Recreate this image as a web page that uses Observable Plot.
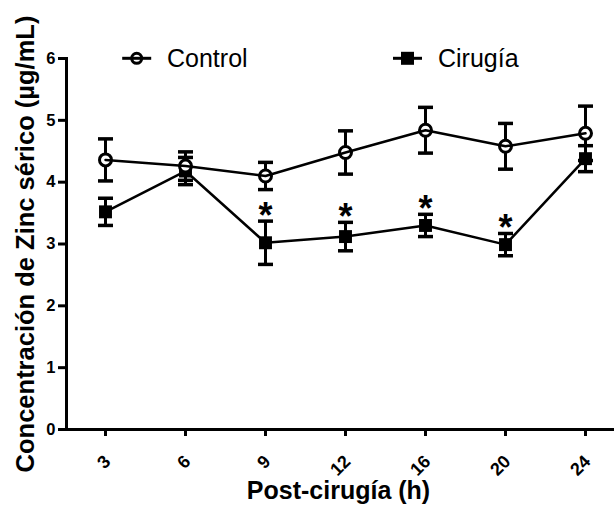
<!DOCTYPE html>
<html>
<head>
<meta charset="utf-8">
<script src="https://cdn.jsdelivr.net/npm/d3@7"></script>
<script src="https://cdn.jsdelivr.net/npm/@observablehq/plot@0.6"></script>
<style>
  html, body { margin: 0; padding: 0; background: white; }
  #wrap { position: relative; width: 614px; height: 506px; font-family: 'Liberation Sans', Arial, sans-serif; }
  #legend { position: absolute; left: 0; top: 0; pointer-events: none; }
</style>
</head>
<body>
<div id="wrap"></div>
<script>
const hours = ["3", "6", "9", "12", "16", "20", "24"];
const controlMean = [4.36, 4.26, 4.10, 4.48, 4.84, 4.58, 4.79];
const controlSem  = [0.34, 0.23, 0.22, 0.35, 0.37, 0.37, 0.44];
const cirugiaMean = [3.52, 4.18, 3.02, 3.12, 3.30, 2.99, 4.38];
const cirugiaSem  = [0.22, 0.22, 0.35, 0.23, 0.18, 0.18, 0.21];
const significant = [false, false, true, true, true, true, false];
const yTicks = [0, 1, 2, 3, 4, 5, 6];
const seriesNames = ["Control", "Cirugía"];
const yLabel = "Concentración de Zinc sérico (µg/mL)";
const xLabel = "Post-cirugía (h)";

const control = hours.map((h, i) => ({h, mean: controlMean[i], lo: controlMean[i] - controlSem[i], hi: controlMean[i] + controlSem[i]}));
const cirugia = hours.map((h, i) => ({h, mean: cirugiaMean[i], lo: cirugiaMean[i] - cirugiaSem[i], hi: cirugiaMean[i] + cirugiaSem[i], sig: significant[i]}));
const all = control.concat(cirugia);

const cap = {draw(ctx, size) { const w = Math.sqrt(size / Math.PI); ctx.moveTo(-w, 0); ctx.lineTo(w, 0); }};

const chart = Plot.plot({
  width: 614,
  height: 506,
  marginLeft: 66,
  marginRight: 0,
  marginTop: 58,
  marginBottom: 77,
  style: {fontFamily: "'Liberation Sans', Arial, sans-serif", color: "black", background: "white"},
  x: {type: "point", domain: hours, padding: 0.425, align: 0.574},
  y: {domain: [0, 6]},
  marks: [
    Plot.axisY({ticks: yTicks, tickFormat: d3.format("d"), tickSize: 8, tickPadding: 3, fontSize: 16.5, fontWeight: "bold", strokeWidth: 3, label: null}),
    Plot.axisX({tickSize: 7, strokeWidth: 3, tickFormat: () => "", label: null}),
    Plot.text(hours, {x: d => d, text: d => d, frameAnchor: "bottom", rotate: -45, textAnchor: "end", lineAnchor: "middle", dx: 2, dy: 29, fontSize: 18, fontWeight: "bold"}),
    Plot.ruleY([0], {strokeWidth: 3}),
    Plot.frame({anchor: "left", strokeWidth: 3}),
    Plot.text([yLabel], {frameAnchor: "left", dx: -33, rotate: -90, textAnchor: "middle", lineAnchor: "bottom", fontSize: 25.5, fontWeight: "bold"}),
    Plot.text([xLabel], {frameAnchor: "bottom", dx: -2, dy: 69, textAnchor: "middle", lineAnchor: "bottom", fontSize: 25, fontWeight: "bold"}),
    Plot.ruleX(all, {x: "h", y1: "lo", y2: "hi", strokeWidth: 3}),
    Plot.dot(all, {x: "h", y: "lo", symbol: cap, r: 7.5, stroke: "black", fill: "none", strokeWidth: 3.5}),
    Plot.dot(all, {x: "h", y: "hi", symbol: cap, r: 7.5, stroke: "black", fill: "none", strokeWidth: 3.5}),
    Plot.lineY(cirugia, {x: "h", y: "mean", stroke: "black", strokeWidth: 2.5}),
    Plot.dot(cirugia, {x: "h", y: "mean", symbol: "square", r: 7.3, fill: "black", stroke: "none"}),
    Plot.dot(control, {x: "h", y: "mean", r: 6, fill: "white", stroke: "none"}),
    Plot.lineY(control, {x: "h", y: "mean", stroke: "black", strokeWidth: 2.5}),
    Plot.dot(control, {x: "h", y: "mean", r: 6, fill: "none", stroke: "black", strokeWidth: 3}),
    Plot.text(cirugia.filter(d => d.sig), {x: "h", y: "hi", text: () => "*", dy: 7, lineAnchor: "bottom", fontSize: 36, fontWeight: "bold"})
  ]
});

const wrap = document.getElementById("wrap");
wrap.appendChild(chart);

// legend overlay
const leg = d3.select(wrap).append("svg").attr("id", "legend").attr("width", 614).attr("height", 506)
  .style("font-family", "'Liberation Sans', Arial, sans-serif");
const items = [
  {name: seriesNames[0], cx: 136.7, tx: 167, kind: "circle"},
  {name: seriesNames[1], cx: 407.5, tx: 438, kind: "square"}
];
const ly = 58.3;
for (const it of items) {
  const g = leg.append("g");
  g.append("line").attr("x1", it.cx - 14.5).attr("x2", it.cx + 14.5).attr("y1", ly).attr("y2", ly).attr("stroke", "black").attr("stroke-width", 3);
  if (it.kind === "circle") {
    g.append("circle").attr("cx", it.cx).attr("cy", ly).attr("r", 5).attr("fill", "none").attr("stroke", "black").attr("stroke-width", 3);
  } else {
    g.append("rect").attr("x", it.cx - 6.5).attr("y", ly - 6.5).attr("width", 13).attr("height", 13).attr("fill", "black");
  }
  g.append("text").attr("x", it.tx).attr("y", ly + 9).attr("font-size", 25).attr("fill", "black").text(it.name);
}
</script>
</body>
</html>
